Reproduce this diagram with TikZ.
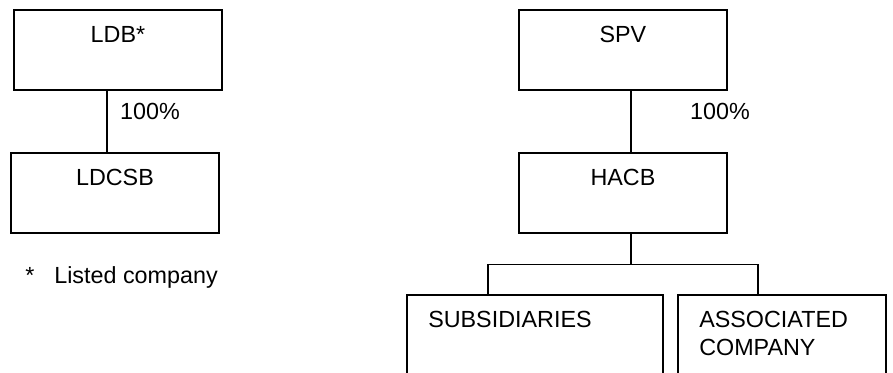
\documentclass[tikz,border=0pt]{standalone}
\usepackage{fontspec}
\setmainfont{Liberation Sans}
\begin{document}
\begin{tikzpicture}[x=0.75pt,y=0.75pt,yscale=-1,xscale=1,
  every node/.style={font=\fontsize{17.5}{21}\selectfont},
  cobox/.style={draw, line width=1.4pt, anchor=north west, minimum width=156pt, inner ysep=0pt, text height=24.75pt, text depth=35.25pt},
  subbox/.style={draw, line width=1.4pt, anchor=north west, inner xsep=16pt, inner ysep=0pt, align=left, text height=24.75pt, text depth=60pt},
  link/.style={line width=1.4pt}]
\useasboundingbox (0,0) rectangle (893,372);
%Left group
\node [cobox] (ldb) at (13,9) {LDB*};
\node [cobox] (ldcsb) at (10,152) {LDCSB};
%Right group
\node [cobox] (spv) at (518,9) {SPV};
\node [cobox] (hacb) at (518,152) {HACB};
\node [subbox, text width=160pt] (subs) at (406,294) {SUBSIDIARIES};
\node [subbox, text width=124pt] (assoc) at (677,294) {ASSOCIATED\\COMPANY};
%Straight Lines
\coordinate (ldbtap) at ([xshift=-8.25pt]ldb.south);
\draw [link] (ldbtap) -- (ldbtap |- ldcsb.north);
\coordinate (spvtap) at ([xshift=6pt]spv.south);
\draw [link] (spvtap) -- (spvtap |- hacb.north);
\coordinate (hacbtap) at ([xshift=6pt]hacb.south);
\coordinate (fork) at ([yshift=23pt]hacbtap);
\draw [link] (hacbtap) -- (fork);
\draw [link] (fork) -| ([xshift=-35.25pt]subs.north);
\draw [link] (fork) -| ([xshift=-18pt]assoc.north);
% Text Node
\node [inner sep=0pt] (ldbshare) at (150,111) {100\%};
\node [inner sep=0pt] (spvshare) at (720,111) {100\%};
\node [inner sep=0pt, anchor=base west] (note) at (25,283) {*\hspace{15pt}Listed company};
\end{tikzpicture}
\end{document}
